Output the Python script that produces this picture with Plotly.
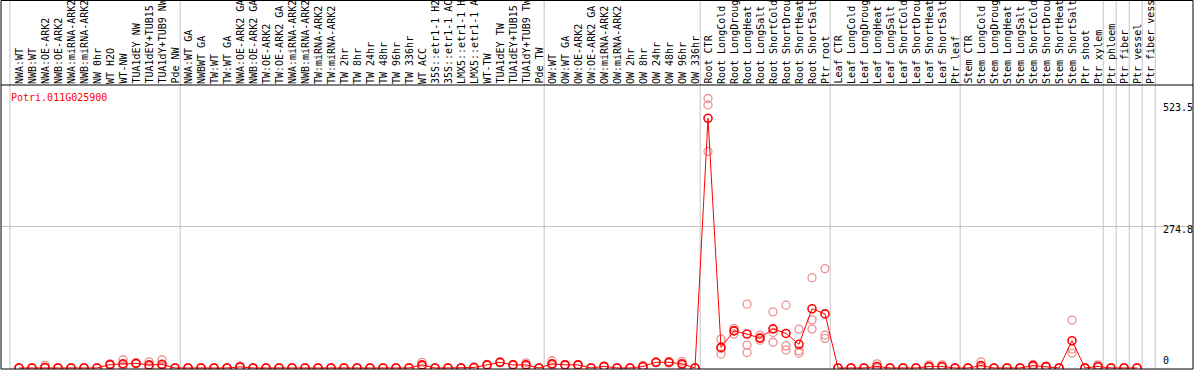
import plotly.graph_objects as go

categories = [
    "NWA:WT", "NWB:WT", "NWA:OE-ARK2", "NWB:OE-ARK2", "NWA:miRNA-ARK2", "NWB:miRNA-ARK2",
    "NW 0hr", "WT H2O", "WT-NW", "TUA1dEY NW", "TUA1dEY+TUB15 NW", "TUA1dY+TUB9 NW", "Pde NW",
    "NWA:WT GA", "NWBWT GA", "TW:WT", "TW:WT GA", "NWA:OE-ARK2 GA", "NWB:OE-ARK2 GA",
    "TW:OE-ARK2", "TW:OE-ARK2 GA", "NWA:miRNA-ARK2 GA", "NWB:miRNA-ARK2 GA", "TW:miRNA-ARK2",
    "TW:miRNA-ARK2 GA", "TW 2hr", "TW 8hr", "TW 24hr", "TW 48hr", "TW 96hr", "TW 336hr",
    "WT ACC", "35S::etr1-1 H2O", "35S::etr1-1 ACC", "LMX5::etr1-1 H2O", "LMX5::etr1-1 ACC",
    "WT-TW", "TUA1dEY TW", "TUA1dEY+TUB15 TW", "TUA1dY+TUB9 TW", "Pde TW",
    "OW:WT", "OW:WT GA", "OW:OE-ARK2", "OW:OE-ARK2 GA", "OW:miRNA-ARK2", "OW:miRNA-ARK2 GA",
    "OW 2hr", "OW 8hr", "OW 24hr", "OW 48hr", "OW 96hr", "OW 336hr",
    "Root CTR", "Root LongCold", "Root LongDrought", "Root LongHeat", "Root LongSalt",
    "Root ShortCold", "Root ShortDrought", "Root ShortHeat", "Root ShortSalt", "Ptr root",
    "Leaf CTR", "Leaf LongCold", "Leaf LongDrought", "Leaf LongHeat", "Leaf LongSalt",
    "Leaf ShortCold", "Leaf ShortDrought", "Leaf ShortHeat", "Leaf ShortSalt", "Ptr leaf",
    "Stem CTR", "Stem LongCold", "Stem LongDrought", "Stem LongHeat", "Stem LongSalt",
    "Stem ShortCold", "Stem ShortDrought", "Stem ShortHeat", "Stem ShortSalt", "Ptr shoot",
    "Ptr xylem", "Ptr phloem", "Ptr fiber", "Ptr vessel", "Ptr fiber vessel",
]

mean_values = [
    0, 0, 1, 0, 0, 0, 0, 6.5, 8, 9, 6, 7, 0,
    0, 0, 0, 0, 2, 0, 0, 0, 0, 0, 0, 0, 0, 0, 0, 0, 0, 0,
    6, 0, 0, 0, 1, 6, 11, 6, 6, 0,
    8, 6, 6, 0, 3, 0, 0, 3, 11, 11, 8, 0,
    485, 40, 72, 66, 58, 76, 67, 46, 115, 105,
    0, 0, 0, 3, 0, 0, 0, 3, 3, 0,
    0, 4.5, 0, 0, 0, 4.5, 2.5, 0, 53,
    0, 3, 0, 0, 0,
]

rep1 = [
    0, 0, 5, 0, 0, 0, 0, 8, 16, 10, 12, 16, 0,
    0, 0, 0, 0, 4, 0, 0, 0, 0, 0, 0, 0, 0, 0, 0, 0, 0, 0,
    11, 0, 0, 0, 2, 7, 12, 7, 10, 0,
    14, 7, 7, 0, 4, 0, 0, 5, 12, 13, 13, 0,
    523.5, 56, 77, 124, 64, 109, 122, 75.5, 175.5, 193,
    0, 0, 0, 8, 0, 0, 0, 6, 6, 0,
    0, 12, 0, 0, 0, 7, 4, 0, 93,
    0, 6, 0, 0, 0,
]

rep2 = [
    0, 0, 0, 0, 0, 0, 0, 6, 4, 9, 3, 3, 0,
    0, 0, 0, 0, 1, 0, 0, 0, 0, 0, 0, 0, 0, 0, 0, 0, 0, 0,
    4, 0, 0, 0, 1, 6, 11, 6, 4, 0,
    5, 6, 6, 0, 3, 0, 0, 2, 11, 10, 6, 0,
    511, 27, 66, 44.5, 54, 69, 43, 33.5, 93.5, 64,
    0, 0, 0, 1, 0, 0, 0, 2, 2, 0,
    0, 1, 0, 0, 0, 4, 2, 0, 37,
    0, 2, 0, 0, 0,
]

rep3 = [
    0, 0, 0, 0, 0, 0, 0, 5.5, 4, 8, 3, 2, 0,
    0, 0, 0, 0, 1, 0, 0, 0, 0, 0, 0, 0, 0, 0, 0, 0, 0, 0,
    3, 0, 0, 0, 0, 5, 10, 5, 4, 0,
    5, 5, 5, 0, 2, 0, 0, 2, 10, 10, 5, 0,
    420.6, 38, 73, 30, 59, 50, 35, 29, 75.5, 57.5,
    0, 0, 0, 0, 0, 0, 0, 1, 1, 0,
    0, 0.5, 0, 0, 0, 2.5, 1.5, 0, 29,
    0, 1, 0, 0, 0,
]

gene_name = "Potri.011G025900"
axis_tick_values = [0, 274.8, 523.5]
group_separators = [-0.7, 12.4, 40.4, 52.4, 62.4, 72.4, 83.4, 84.4, 85.4, 86.4, 87.4]

W, H = 1194, 370
ML, MR, MT, MB = 1, 1, 85, 1
PW = W - ML - MR
PH = H - MT - MB
COL = 13.0
FIRST_PX = 19.0
x_min = -(FIRST_PX - ML) / COL
x_max = x_min + PW / COL
y_min, y_max = -2, 549.7

idx = list(range(len(categories)))
FONT = "DejaVu Sans Mono"

fig = go.Figure()

for reps in (rep1, rep2, rep3):
    fig.add_trace(go.Scatter(
        x=idx, y=reps, mode="markers",
        marker=dict(symbol="circle-open", size=8, color="#ee8f8f", line=dict(width=1.3, color="#ee8f8f")),
        hoverinfo="skip", showlegend=False,
    ))

fig.add_trace(go.Scatter(
    x=idx, y=mean_values, mode="lines+markers",
    line=dict(color="#ff0000", width=1),
    marker=dict(symbol="circle-open", size=8, color="#ff0000", line=dict(width=1.6, color="#ff0000")),
    text=categories, hovertemplate="%{text}: %{y}<extra></extra>", showlegend=False,
))

shapes = []
top_paper = (H - MB - 0.5) / PH
for s in group_separators:
    shapes.append(dict(type="line", xref="x", yref="paper", x0=s, x1=s, y0=0, y1=top_paper,
                       line=dict(color="#c4c4c4", width=1), layer="below"))
shapes.append(dict(type="line", xref="paper", yref="y", x0=0, x1=1, y0=axis_tick_values[1], y1=axis_tick_values[1],
                   line=dict(color="#c4c4c4", width=1), layer="below"))
shapes.append(dict(type="rect", xref="paper", yref="paper", x0=0, x1=1, y0=0, y1=top_paper,
                   line=dict(color="black", width=1)))
shapes.append(dict(type="line", xref="paper", yref="paper", x0=0, x1=1, y0=1, y1=1,
                   line=dict(color="black", width=1)))

annotations = []
for i, c in enumerate(categories):
    annotations.append(dict(
        x=i, y=1, xref="x", yref="paper", text=c, showarrow=False, textangle=-90,
        xanchor="center", yanchor="bottom", yshift=1, borderpad=0, borderwidth=0,
        font=dict(family=FONT, size=10, color="black"),
    ))

annotations.append(dict(
    x=(10 - ML) / PW, y=(H - MB - 97) / PH, xref="paper", yref="paper", text=gene_name,
    showarrow=False, xanchor="left", yanchor="middle", borderpad=0,
    font=dict(family=FONT, size=10, color="#ff0000"),
))

tick_shift = {0: 7, 274.8: -3, 523.5: -9}
for v in axis_tick_values:
    label = "0" if v == 0 else f"{v:.1f}"
    annotations.append(dict(
        x=(1162 - ML) / PW, y=v, xref="paper", yref="y", text=label, showarrow=False,
        xanchor="left", yanchor="middle", yshift=tick_shift[v], borderpad=0,
        font=dict(family=FONT, size=10, color="black"),
    ))

fig.update_layout(
    width=W, height=H,
    margin=dict(l=ML, r=MR, t=MT, b=MB, pad=0),
    paper_bgcolor="white", plot_bgcolor="white",
    xaxis=dict(range=[x_min, x_max], visible=False, showgrid=False, zeroline=False),
    yaxis=dict(range=[y_min, y_max], visible=False, showgrid=False, zeroline=False),
    shapes=shapes, annotations=annotations, showlegend=False,
)

fig.write_html(
    "out.html",
    config=dict(displayModeBar=False),
    post_script="document.body.style.margin='0';document.body.style.overflow='hidden';",
)
